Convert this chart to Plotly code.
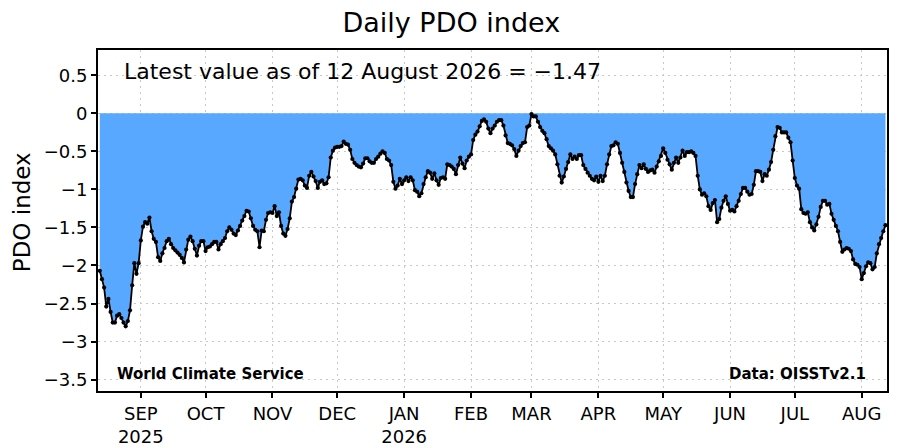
import pandas as pd
import plotly.graph_objects as go

# Daily PDO index, 13 Aug 2025 - 12 Aug 2026 (values read month by month)
pdo_2025_aug = [-2.07, -2.18, -2.29, -2.54, -2.44, -2.61, -2.75, -2.75, -2.66, -2.64,
                -2.69, -2.75, -2.80, -2.73, -2.59, -2.26, -1.97, -2.11, -1.97]
pdo_2025_sep = [-1.67, -1.49, -1.43, -1.45, -1.37, -1.55, -1.65, -1.69, -1.89, -1.94,
                -1.84, -1.77, -1.68, -1.65, -1.72, -1.77, -1.80, -1.83, -1.86, -1.90,
                -1.96, -1.79, -1.66, -1.62, -1.68, -1.78, -1.87, -1.74, -1.68, -1.68]
pdo_2025_oct = [-1.81, -1.76, -1.75, -1.72, -1.69, -1.69, -1.79, -1.72, -1.68, -1.64,
                -1.55, -1.50, -1.53, -1.58, -1.60, -1.54, -1.48, -1.41, -1.35, -1.28,
                -1.29, -1.38, -1.48, -1.53, -1.55, -1.76, -1.54, -1.55, -1.40, -1.31, -1.30]
pdo_2025_nov = [-1.31, -1.22, -1.35, -1.30, -1.48, -1.58, -1.61, -1.52, -1.38, -1.16,
                -1.10, -0.99, -0.87, -0.86, -0.88, -0.95, -0.98, -0.82, -0.77, -0.83,
                -0.89, -0.98, -0.90, -0.88, -0.93, -0.92, -0.84, -0.58, -0.49, -0.45]
pdo_2025_dec = [-0.44, -0.44, -0.43, -0.37, -0.40, -0.41, -0.48, -0.60, -0.65, -0.68,
                -0.70, -0.71, -0.66, -0.59, -0.59, -0.63, -0.65, -0.65, -0.60, -0.57,
                -0.53, -0.50, -0.52, -0.60, -0.62, -0.68, -0.90, -0.99, -0.95, -0.86, -0.93]
pdo_2026_jan = [-0.88, -0.84, -0.89, -0.84, -0.88, -1.01, -1.03, -1.09, -1.05, -0.93,
                -0.84, -0.76, -0.78, -0.86, -0.79, -0.88, -0.94, -0.85, -0.84, -0.86,
                -0.67, -0.68, -0.70, -0.73, -0.80, -0.68, -0.58, -0.66, -0.72, -0.62, -0.57]
pdo_2026_feb = [-0.54, -0.35, -0.28, -0.24, -0.17, -0.10, -0.08, -0.11, -0.20, -0.26,
                -0.20, -0.16, -0.11, -0.09, -0.09, -0.16, -0.29, -0.39, -0.40, -0.42,
                -0.47, -0.56, -0.49, -0.43, -0.39, -0.38, -0.18, -0.16]
pdo_2026_mar = [-0.01, -0.04, -0.04, -0.11, -0.18, -0.23, -0.26, -0.34, -0.43, -0.46,
                -0.49, -0.54, -0.67, -0.82, -0.91, -0.83, -0.73, -0.64, -0.54, -0.60,
                -0.57, -0.60, -0.55, -0.55, -0.68, -0.73, -0.78, -0.82, -0.86, -0.88, -0.83]
pdo_2026_apr = [-0.90, -0.82, -0.89, -0.82, -0.67, -0.54, -0.43, -0.42, -0.38, -0.40,
                -0.52, -0.65, -0.77, -0.91, -1.02, -1.10, -1.10, -0.93, -0.80, -0.68,
                -0.72, -0.67, -0.73, -0.77, -0.75, -0.74, -0.78, -0.70, -0.63, -0.56]
pdo_2026_may = [-0.46, -0.52, -0.61, -0.67, -0.74, -0.65, -0.58, -0.65, -0.58, -0.49,
                -0.56, -0.51, -0.51, -0.50, -0.52, -0.56, -0.82, -1.00, -1.07, -1.05,
                -1.09, -1.22, -1.27, -1.18, -1.14, -1.43, -1.39, -1.24, -1.15, -1.09, -1.19]
pdo_2026_jun = [-1.28, -1.27, -1.29, -1.22, -1.15, -1.06, -0.98, -0.98, -1.03, -1.07,
                -1.06, -0.94, -0.76, -0.76, -0.77, -0.89, -0.80, -0.82, -0.74, -0.64,
                -0.48, -0.30, -0.18, -0.19, -0.25, -0.25, -0.25, -0.32, -0.38, -0.62]
pdo_2026_jul = [-0.85, -0.95, -0.99, -1.26, -1.31, -1.32, -1.30, -1.43, -1.50, -1.54,
                -1.46, -1.36, -1.23, -1.15, -1.15, -1.20, -1.19, -1.32, -1.40, -1.48,
                -1.55, -1.69, -1.82, -1.79, -1.77, -1.78, -1.81, -1.92, -1.98, -1.99, -2.02]
pdo_2026_aug = [-2.18, -2.10, -2.01, -1.96, -1.97, -2.05, -2.02, -1.84, -1.72, -1.64,
                -1.55, -1.47]

month_ticks = ["2025-09-01", "2025-10-01", "2025-11-01", "2025-12-01", "2026-01-01",
               "2026-02-01", "2026-03-01", "2026-04-01", "2026-05-01", "2026-06-01",
               "2026-07-01", "2026-08-01"]
month_labels = ["SEP<br>2025", "OCT", "NOV", "DEC", "JAN<br>2026", "FEB", "MAR",
                "APR", "MAY", "JUN", "JUL", "AUG"]

pdo = (pdo_2025_aug + pdo_2025_sep + pdo_2025_oct + pdo_2025_nov + pdo_2025_dec
       + pdo_2026_jan + pdo_2026_feb + pdo_2026_mar + pdo_2026_apr + pdo_2026_may
       + pdo_2026_jun + pdo_2026_jul + pdo_2026_aug)
dates = pd.date_range("2025-08-13", periods=len(pdo), freq="D")

font = "DejaVu Sans"
grid = dict(showgrid=True, gridcolor="#c8c8c8", griddash="2px,4px", gridwidth=1)

fig = go.Figure()
fig.add_trace(go.Scatter(
    x=dates, y=pdo,
    mode="lines+markers",
    fill="tozeroy",
    fillcolor="#58a8ff",
    line=dict(color="black", width=1.8),
    marker=dict(color="black", size=4.2),
    hoverinfo="x+y",
))

# page body adds an 8px offset, so the figure is drawn 8px smaller
fig.update_layout(
    width=892, height=440,
    margin=dict(l=90, r=13, t=42, b=57),
    paper_bgcolor="white",
    plot_bgcolor="white",
    showlegend=False,
    title=dict(text="Daily PDO index", x=0.497, xanchor="center", y=0.966, yanchor="middle",
               font=dict(family=font, size=27, color="black")),
    font=dict(family=font, color="black"),
)

fig.update_xaxes(
    range=["2025-08-12 04:00", "2026-08-12 17:00"],
    tickvals=month_ticks, ticktext=month_labels,
    tickfont=dict(family=font, size=18),
    ticks="outside", ticklen=5, tickwidth=2, tickcolor="black",
    showline=True, linecolor="black", linewidth=2, mirror=True,
    zeroline=False, automargin=False,
    **grid,
)
fig.update_yaxes(
    range=[-3.65, 0.833],
    dtick=0.5, tick0=0,
    tickfont=dict(family=font, size=18),
    ticks="outside", ticklen=5, tickwidth=2, tickcolor="black",
    showline=True, linecolor="black", linewidth=2, mirror=True,
    zeroline=False, automargin=False,
    **grid,
)

fig.add_annotation(text="PDO index", textangle=-90,
                   xref="paper", yref="paper", x=-0.096, y=0.525,
                   xanchor="center", yanchor="middle", showarrow=False,
                   font=dict(family=font, size=23, color="black"))
fig.add_annotation(text="Latest value as of 12 August 2026 = \u22121.47",
                   xref="paper", yref="paper", x=0.031, y=0.938,
                   xanchor="left", yanchor="middle", showarrow=False,
                   font=dict(family=font, size=22, color="black"))
fig.add_annotation(text="<b>World Climate Service</b>",
                   xref="paper", yref="paper", x=0.021, y=0.05,
                   xanchor="left", yanchor="middle", showarrow=False,
                   font=dict(family=font, size=15, color="black"))
fig.add_annotation(text="<b>Data: OISSTv2.1</b>",
                   xref="paper", yref="paper", x=0.976, y=0.05,
                   xanchor="right", yanchor="middle", showarrow=False,
                   font=dict(family=font, size=15, color="black"))

fig.write_html("out.html")
